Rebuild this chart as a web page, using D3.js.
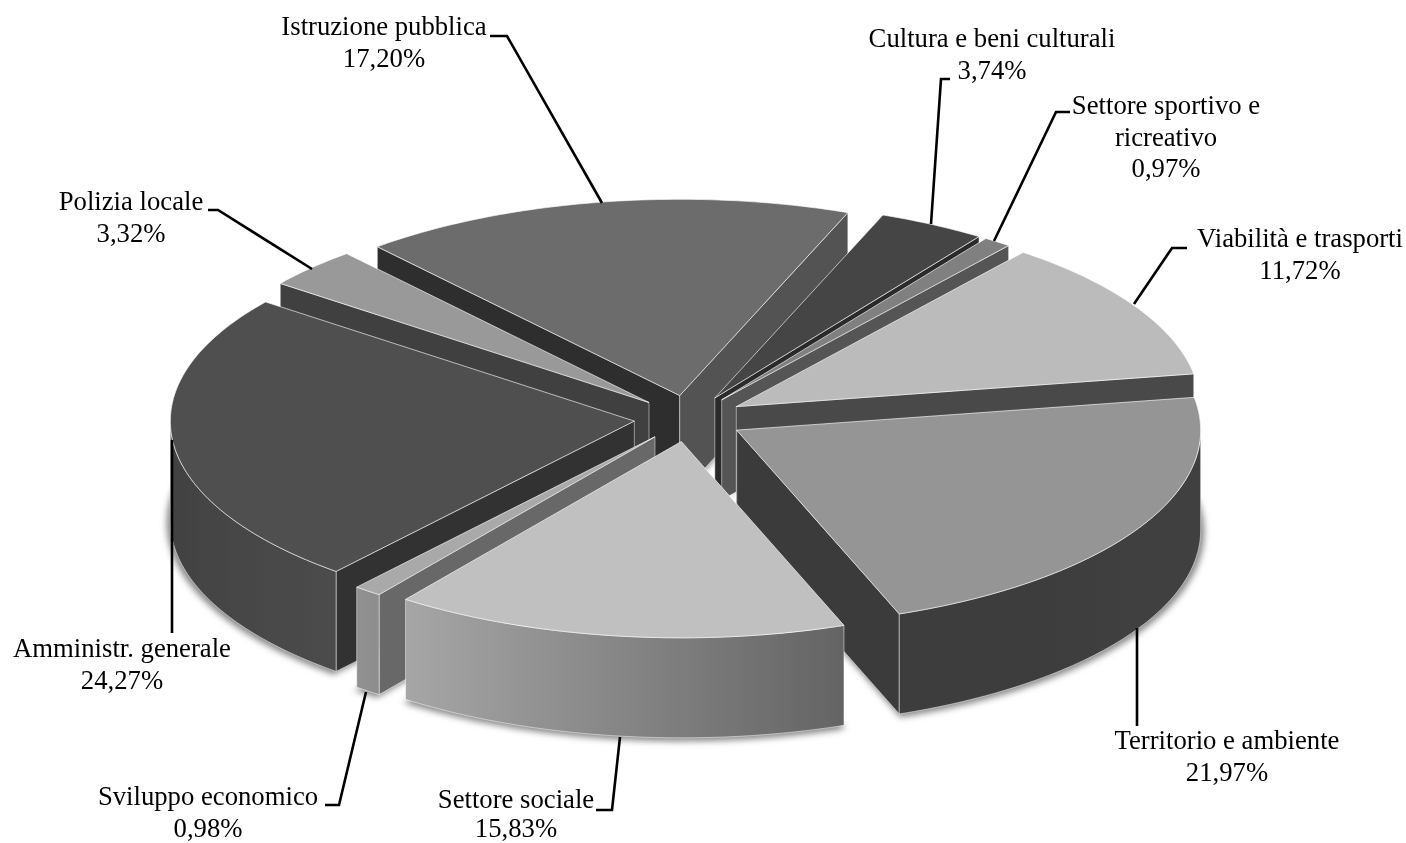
<!DOCTYPE html>
<html>
<head>
<meta charset="utf-8">
<script src="https://cdn.jsdelivr.net/npm/d3@7"></script>
<style>
html, body { margin: 0; padding: 0; background: #fff; }
svg { display: block; }
text { font-family: "Liberation Serif", "Times New Roman", serif; font-size: 26.7px; fill: #000; text-anchor: middle; }
</style>
</head>
<body>
<svg id="chart"></svg>
<script>
// data
var categories = ["Amministr. generale", "Polizia locale", "Istruzione pubblica", "Cultura e beni culturali",
    "Settore sportivo e ricreativo", "Viabilità e trasporti", "Territorio e ambiente", "Settore sociale", "Sviluppo economico"];
var values = [24.27, 3.32, 17.20, 3.74, 0.97, 11.72, 21.97, 15.83, 0.98];

// greys for each slice, same order as categories
var topColors = ["#505050", "#999999", "#6c6c6c", "#444444", "#808080", "#bbbbbb", "#959595", "#c0c0c0", "#a9a9a9"];
var wallColors = ["#333333", "#404040", "#2e2e2e", "#2c2c2c", "#555555", "#4a4a4a", "#3b3b3b", "#a9a9a9", "#686868"];
var endWallColors = ["#333333", "#404040", "#525252", "#2c2c2c", "#555555", "#4a4a4a", "#3b3b3b", "#a9a9a9", "#686868"];
var outerLeft = ["#424242", "#404040", "#555555", "#333333", "#555555", "#4a4a4a", "#3c3c3c", "#a6a6a6", "#919191"];
var outerRight = ["#4c4c4c", "#404040", "#555555", "#333333", "#555555", "#4a4a4a", "#404040", "#646464", "#8d8d8d"];

// label layout: text lines, centre x, first baseline, leader polyline
var labelLayout = [
    { lines: [categories[0]], x: 122, y: 657, leader: [[172, 440], [172, 633]] },
    { lines: [categories[1]], x: 131, y: 210, leader: [[208, 210], [218, 210], [312, 269]] },
    { lines: [categories[2]], x: 384, y: 35, leader: [[490, 36], [507, 36], [602, 203]] },
    { lines: [categories[3]], x: 992, y: 47, leader: [[950, 79], [941, 79], [931, 224]] },
    { lines: ["Settore sportivo e", "ricreativo"], x: 1166, y: 114, leader: [[1070, 112], [1056, 112], [994, 241]] },
    { lines: [categories[5]], x: 1300, y: 247, leader: [[1187, 248], [1172, 248], [1134, 304]] },
    { lines: [categories[6]], x: 1227, y: 749, leader: [[1137, 628], [1137, 726]] },
    { lines: [categories[7]], x: 516, y: 808, step: 29, leader: [[620, 737], [612, 810], [596, 810]] },
    { lines: [categories[8]], x: 208, y: 805, leader: [[366, 692], [339, 805], [325, 805]] }
];

var width = 1406;
var height = 843;
var radius = 464;
var tilt = 0.423;
var explode = 55;
var depth = 100;
var cx = 689;
var cy = 418.5;

var svg = d3.select("#chart").attr("width", width).attr("height", height);

var percent = d3.formatLocale({ decimal: ",", thousands: ".", grouping: [3], currency: ["", ""] }).format(".2f");

// world units are pixels of the flat pie, scales squash it onto the screen
var xScale = d3.scaleLinear().domain([-radius, radius]).range([cx - radius, cx + radius]);
var yScale = d3.scaleLinear().domain([-radius, radius]).range([cy - radius * tilt, cy + radius * tilt]);

var pie = d3.pie().sort(null).startAngle(220 * Math.PI / 180).endAngle(580 * Math.PI / 180);
var arcs = pie(values);

var line = d3.line();

var project = function(d, r, a, z)
{
    var mid = (d.startAngle + d.endAngle) / 2;
    var wx = explode * Math.sin(mid) + r * Math.sin(a);
    var wy = -explode * Math.cos(mid) - r * Math.cos(a);
    return [xScale(wx), yScale(wy) + z];
}

var arcPoints = function(d, a0, a1, r, z)
{
    var steps = Math.max(2, Math.ceil((a1 - a0) / (Math.PI / 180)));
    return d3.range(steps + 1).map(function(i)
    {
        return project(d, r, a0 + (a1 - a0) * i / steps, z);
    });
}

var defs = svg.append("defs");
defs.append("filter").attr("id", "soft")
    .attr("x", "-5%").attr("y", "-5%").attr("width", "110%").attr("height", "110%")
    .append("feGaussianBlur").attr("stdDeviation", 3);
defs.append("filter").attr("id", "scan")
    .attr("filterUnits", "userSpaceOnUse")
    .attr("x", 0).attr("y", 0).attr("width", width).attr("height", height)
    .append("feGaussianBlur").attr("stdDeviation", 0.4);

var root = svg.append("g").attr("filter", "url(#scan)");

// soft shadow under the bottom rims, drawn first
root.append("g").attr("filter", "url(#soft)")
    .selectAll("path")
    .data(arcs)
    .enter()
    .append("path")
    .attr("fill", "#8a8a8a")
    .attr("d", function(d)
    {
        var pts = [project(d, 0, 0, depth + 2)].concat(arcPoints(d, d.startAngle, d.endAngle, radius * 1.008, depth + 2));
        return line(pts) + "Z";
    });

// back to front
var order = arcs.slice().sort(function(a, b)
{
    return Math.cos((b.startAngle + b.endAngle) / 2) - Math.cos((a.startAngle + a.endAngle) / 2);
});

var slices = root.append("g").selectAll("g")
    .data(order)
    .enter()
    .append("g");

var cutWall = function(d, a)
{
    var pts = [project(d, 0, 0, 0), project(d, radius, a, 0), project(d, radius, a, depth), project(d, 0, 0, depth)];
    return line(pts) + "Z";
}

slices.each(function(d)
{
    var g = d3.select(this);
    var i = d.index;
    var edge = "rgba(255,255,255,0.6)";

    // only the cut faces turned to the viewer
    if (Math.sin(d.startAngle) < 0)
    {
        g.append("path").attr("d", cutWall(d, d.startAngle))
            .attr("fill", wallColors[i]).attr("stroke", edge).attr("stroke-width", 0.8);
    }
    if (Math.sin(d.endAngle) > 0)
    {
        g.append("path").attr("d", cutWall(d, d.endAngle))
            .attr("fill", endWallColors[i]).attr("stroke", edge).attr("stroke-width", 0.8);
    }

    // outer rim, front half of the circle only (angles run past a full turn)
    var turn = d.startAngle >= 2 * Math.PI ? 2 * Math.PI : 0;
    var a0 = Math.max(d.startAngle, Math.PI / 2 + turn);
    var a1 = Math.min(d.endAngle, 3 * Math.PI / 2 + turn);
    if (a1 > a0)
    {
        var upper = arcPoints(d, a0, a1, radius, 0);
        var lower = arcPoints(d, a0, a1, radius, depth).reverse();
        var xs = d3.extent(upper, function(p) { return p[0]; });
        var gradId = "rim" + i;
        var grad = defs.append("linearGradient").attr("id", gradId)
            .attr("gradientUnits", "userSpaceOnUse")
            .attr("x1", xs[0]).attr("x2", xs[1]).attr("y1", 0).attr("y2", 0);
        grad.append("stop").attr("offset", 0).attr("stop-color", outerLeft[i]);
        grad.append("stop").attr("offset", 1).attr("stop-color", outerRight[i]);
        g.append("path").attr("d", line(upper.concat(lower)) + "Z")
            .attr("fill", "url(#" + gradId + ")").attr("stroke", edge).attr("stroke-width", 0.8);
    }

    // top face
    var top = [project(d, 0, 0, 0)].concat(arcPoints(d, d.startAngle, d.endAngle, radius, 0));
    g.append("path").attr("d", line(top) + "Z")
        .attr("fill", topColors[i]).attr("stroke", "rgba(255,255,255,0.7)").attr("stroke-width", 0.9);
});

// leaders and labels
var labels = root.append("g").selectAll("g")
    .data(labelLayout)
    .enter()
    .append("g");

labels.append("path")
    .attr("d", function(l) { return line(l.leader); })
    .attr("fill", "none")
    .attr("stroke", "#000")
    .attr("stroke-width", 2.6);

labels.each(function(l, i)
{
    var g = d3.select(this);
    var step = l.step || 31.5;
    l.lines.concat([percent(values[i]) + "%"]).forEach(function(t, n)
    {
        g.append("text").attr("x", l.x).attr("y", l.y + n * step).text(t);
    });
});
</script>
</body>
</html>
